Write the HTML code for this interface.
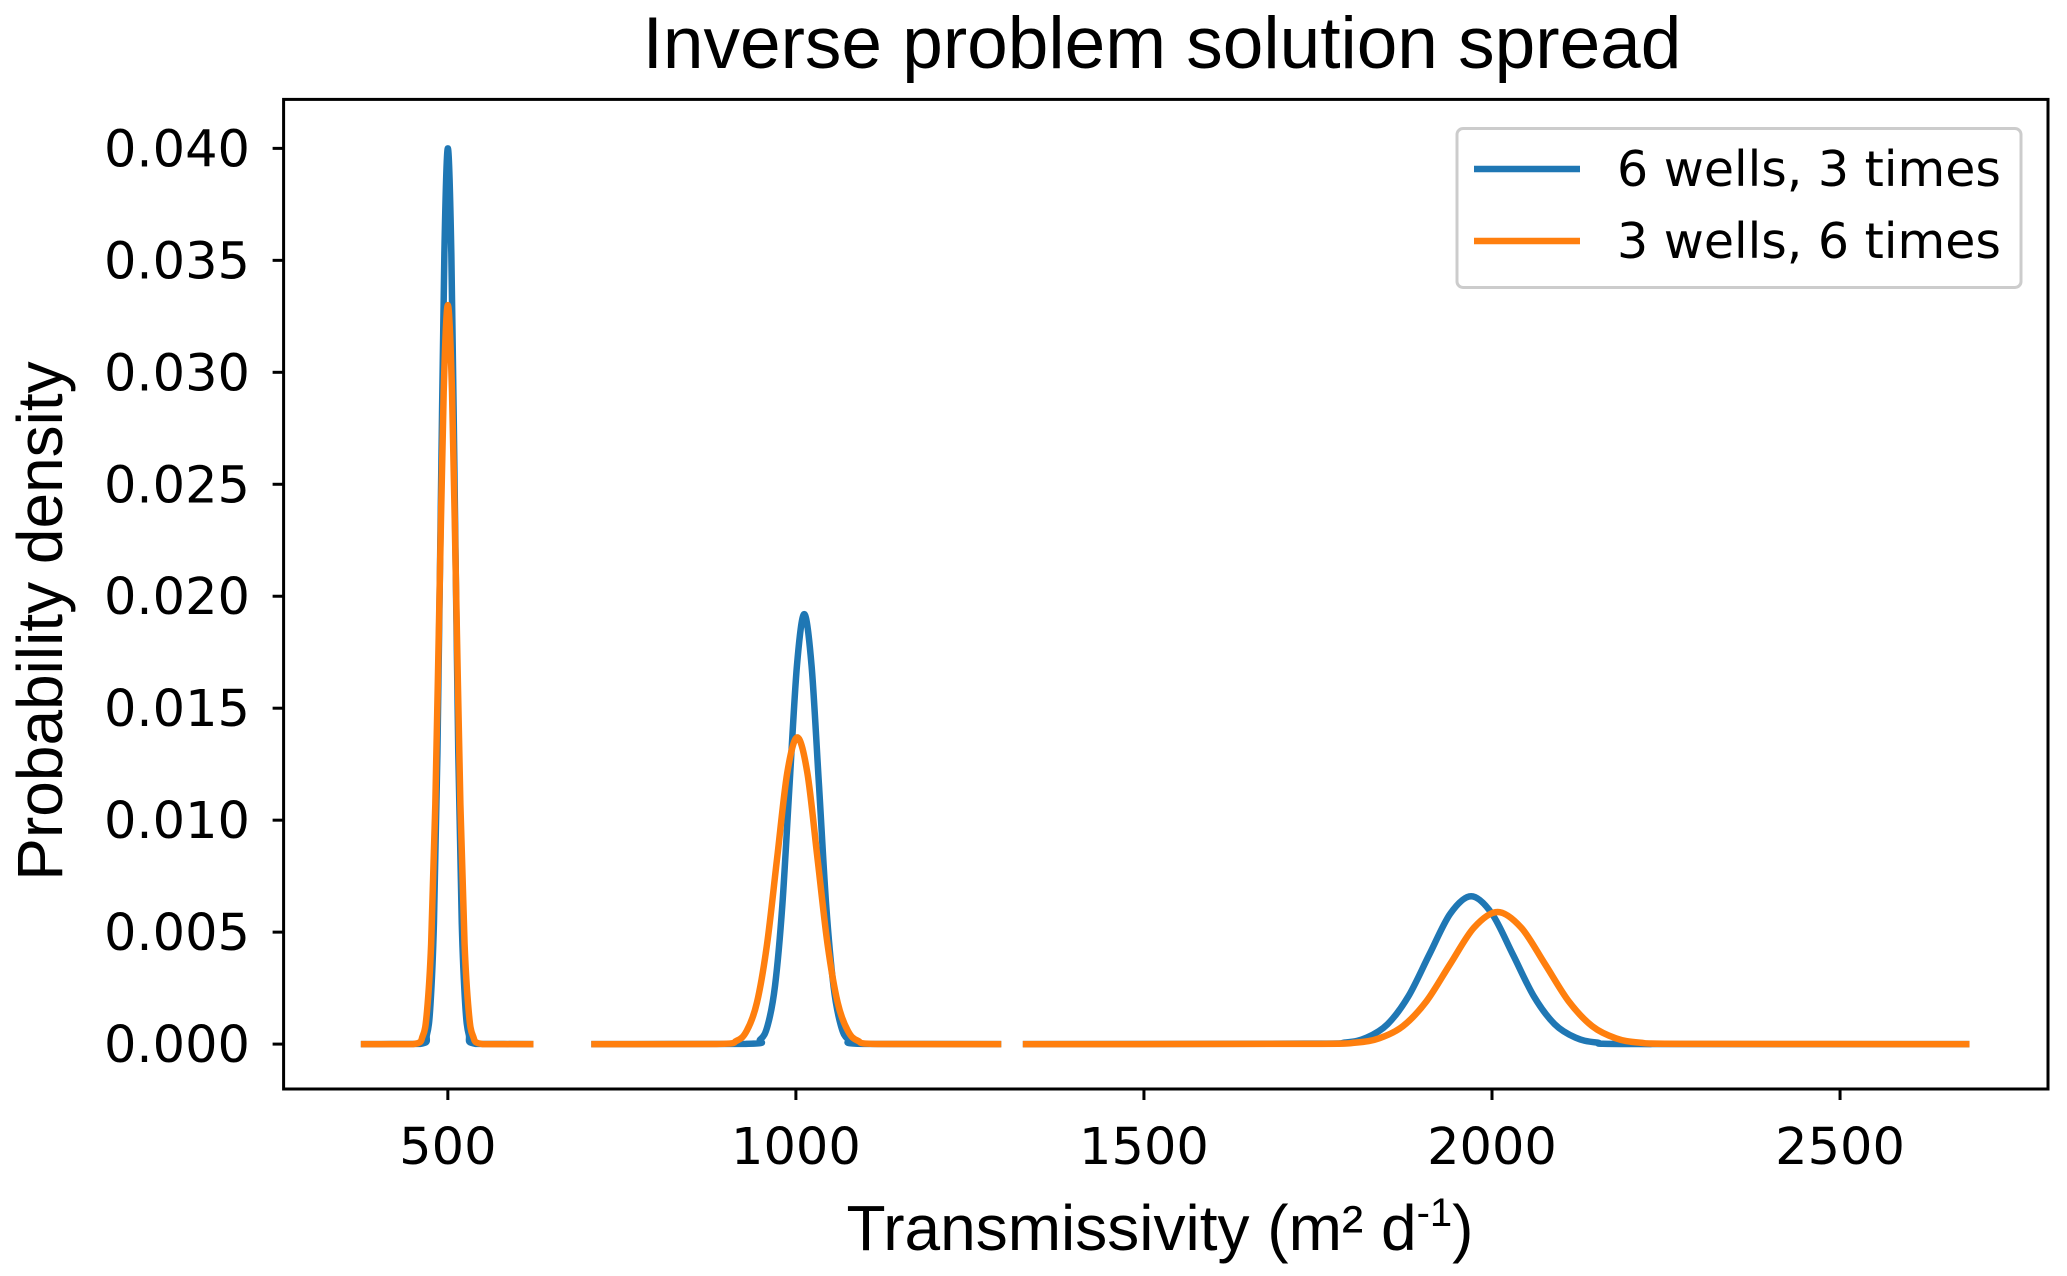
<!DOCTYPE html>
<html><head><meta charset="utf-8"><style>
html,body{margin:0;padding:0;background:#fff;}
svg{display:block;}
</style></head><body>
<svg id="chart" width="2067" height="1276" viewBox="0 0 2067 1276" xmlns="http://www.w3.org/2000/svg">
<rect width="2067" height="1276" fill="#fff"/>
<text x="1162" y="68" text-anchor="middle" font-family="Liberation Sans, sans-serif" font-size="73">Inverse problem solution spread</text>
<g id="plot"></g>
<rect x="283.6" y="99.4" width="1764.4" height="989.6" fill="none" stroke="#000" stroke-width="3"/>
<g id="xticks"></g>
<g id="yticks"></g>
<text x="1160" y="1250" text-anchor="middle" font-family="Liberation Sans, sans-serif" font-size="64">Transmissivity (m² d<tspan font-size="40" dy="-24">-1</tspan><tspan dy="24">)</tspan></text>
<text transform="translate(62,621) rotate(-90)" text-anchor="middle" font-family="Liberation Sans, sans-serif" font-size="64">Probability density</text>
<g>
<rect x="1457" y="128.5" width="564" height="159" rx="6" fill="#fff" fill-opacity="0.8" stroke="#ccc" stroke-width="3"/>
<line x1="1474" y1="169" x2="1580" y2="169" stroke="#1f77b4" stroke-width="6.5"/>
<text x="1617" y="186" font-family="DejaVu Sans, sans-serif" font-size="49">6 wells, 3 times</text>
<line x1="1474" y1="241" x2="1580" y2="241" stroke="#ff7f0e" stroke-width="6.5"/>
<text x="1617" y="258" font-family="DejaVu Sans, sans-serif" font-size="49">3 wells, 6 times</text>
</g>
</svg>
<script>
const xTicks=[500,1000,1500,2000,2500];
const yTicks=[0,0.005,0.010,0.015,0.020,0.025,0.030,0.035,0.040];
const yTickLabels=["0.000","0.005","0.010","0.015","0.020","0.025","0.030","0.035","0.040"];
// blue: 6 wells, 3 times (three segments)
const blueSeg1X=[375,460,470,475,480,485,490,495,500,505,510,515,520,525,530,540,623];
const blueSeg1Y=[0,0.00001,0.00044,0.00176,0.0054,0.013,0.0243,0.0353,0.040,0.0353,0.0243,0.013,0.0054,0.00176,0.00044,0.00001,0];
const blueSeg2X=[706,928,949,959.5,970,980.5,991,1001.5,1012,1022.5,1033,1043.5,1054,1064.5,1075,1096,1295];
const blueSeg2Y=[0,0.00001,0.00021,0.00084,0.0026,0.0062,0.01165,0.0169,0.0192,0.0169,0.01165,0.0062,0.0026,0.00084,0.00021,0.00001,0];
const blueSeg3X=[1326,1730,1790,1820,1850,1880,1910,1940,1970,2000,2030,2060,2090,2120,2150,2210,2686];
const blueSeg3Y=[0,0.00002,0.000073,0.00029,0.00089,0.00214,0.004,0.00582,0.0066,0.00582,0.004,0.00214,0.00089,0.00029,0.000073,0.000002,0];
// orange: 3 wells, 6 times
const orangeSeg1X=[375,450,464,470,476,482,488,494,500,506,512,518,524,530,536,550,623];
const orangeSeg1Y=[0,0,0.00037,0.00145,0.00447,0.0107,0.020,0.0291,0.033,0.0291,0.020,0.0107,0.00447,0.00145,0.00037,0,0];
const orangeSeg2X=[706,886,915,929.5,944,958.5,973,987.5,1002,1016.5,1031,1045.5,1060,1074.5,1089,1118,1295];
const orangeSeg2Y=[0,0.000004,0.00015,0.0006,0.00185,0.00445,0.0083,0.0121,0.0137,0.0121,0.0083,0.00445,0.00185,0.0006,0.00015,0.000004,0];
const orangeSeg3X=[1326,1736,1804,1838,1872,1906,1940,1974,2008,2042,2076,2110,2144,2178,2212,2280,2686];
const orangeSeg3Y=[0,0.00001,0.000065,0.00026,0.0008,0.00192,0.00358,0.0052,0.0059,0.0052,0.00358,0.00192,0.0008,0.00026,0.000065,0.00001,0];

const NS="http://www.w3.org/2000/svg";
function xs(v){return 99.8+v*0.6961;}
function ys(v){return 1044.1-v*22393;}
function mk(t){return document.createElementNS(NS,t);}

const xg=document.getElementById('xticks');
xTicks.forEach(t=>{
  const l=mk('line');
  
  
  l.setAttribute('x1',xs(t));l.setAttribute('x2',xs(t));
  l.setAttribute('y1',1089);l.setAttribute('y2',1100);
  l.setAttribute('stroke','#000');l.setAttribute('stroke-width','3');
  xg.appendChild(l);
  const tx=mk('text');
  
  
  tx.setAttribute('x',xs(t));tx.setAttribute('y',1164);
  tx.setAttribute('text-anchor','middle');
  tx.setAttribute('font-family','DejaVu Sans, sans-serif');
  tx.setAttribute('font-size','51');
  tx.textContent=String(t);
  xg.appendChild(tx);
});
const yg=document.getElementById('yticks');
yTicks.forEach((t,i)=>{
  const l=mk('line');
  
  
  l.setAttribute('x1',272.6);l.setAttribute('x2',283.6);
  l.setAttribute('y1',ys(t));l.setAttribute('y2',ys(t));
  l.setAttribute('stroke','#000');l.setAttribute('stroke-width','3');
  yg.appendChild(l);
  const tx=mk('text');
  
  
  tx.setAttribute('x',250);tx.setAttribute('y',ys(t)+18);
  tx.setAttribute('text-anchor','end');
  tx.setAttribute('font-family','DejaVu Sans, sans-serif');
  tx.setAttribute('font-size','51');
  tx.textContent=yTickLabels[i];
  yg.appendChild(tx);
});

function pathFor(X,Y){
  const p=X.map((x,i)=>[xs(x),ys(Y[i])]);
  const base=ys(0);
  let d='M'+p[0][0].toFixed(2)+','+p[0][1].toFixed(2);
  for(let i=0;i<p.length-1;i++){
    const p0=p[Math.max(i-1,0)],p1=p[i],p2=p[i+1],p3=p[Math.min(i+2,p.length-1)];
    const t=0.16;
    let c1x=p1[0]+(p2[0]-p0[0])*t, c1y=p1[1]+(p2[1]-p0[1])*t;
    let c2x=p2[0]-(p3[0]-p1[0])*t, c2y=p2[1]-(p3[1]-p1[1])*t;
    c1y=Math.min(c1y,base);c2y=Math.min(c2y,base);
    d+=' C'+c1x.toFixed(2)+','+c1y.toFixed(2)+' '+c2x.toFixed(2)+','+c2y.toFixed(2)+' '+p2[0].toFixed(2)+','+p2[1].toFixed(2);
  }
  return d;
}
const plot=document.getElementById('plot');
function addLine(X,Y,color,name){
  const p=mk('path');
  
  
  p.setAttribute('d',pathFor(X,Y));
  p.setAttribute('fill','none');p.setAttribute('stroke',color);
  p.setAttribute('stroke-width','6.5');p.setAttribute('stroke-linejoin','round');
  plot.appendChild(p);
}
addLine(blueSeg1X,blueSeg1Y,'#1f77b4','blue-line-segment-1');
addLine(blueSeg2X,blueSeg2Y,'#1f77b4','blue-line-segment-2');
addLine(blueSeg3X,blueSeg3Y,'#1f77b4','blue-line-segment-3');
addLine(orangeSeg1X,orangeSeg1Y,'#ff7f0e','orange-line-segment-1');
addLine(orangeSeg2X,orangeSeg2Y,'#ff7f0e','orange-line-segment-2');
addLine(orangeSeg3X,orangeSeg3Y,'#ff7f0e','orange-line-segment-3');
</script>
</body></html>
